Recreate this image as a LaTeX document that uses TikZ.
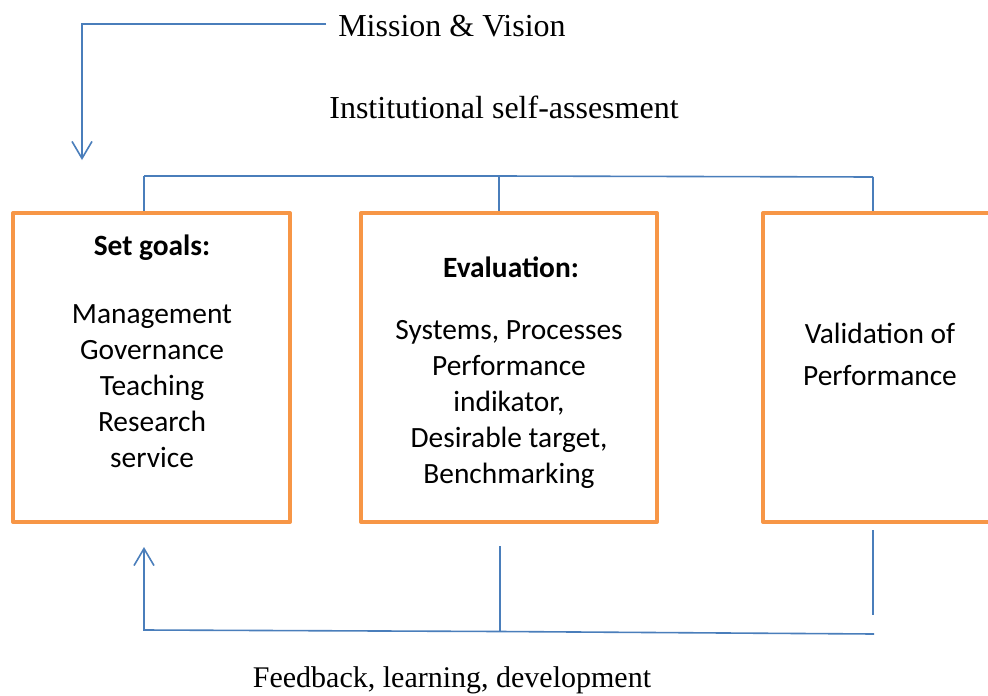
\documentclass[tikz,border=0pt]{standalone}
\usepackage{fontspec}
\usetikzlibrary{arrows.meta}
\newfontfamily\boxfont{Carlito}
\newfontfamily\capfont{Liberation Serif}
\definecolor{frameorange}{HTML}{F79646}
\definecolor{linkblue}{HTML}{4A7EBB}
\tikzset{
  goalbox/.style={draw=frameorange, line width=4pt, line join=round, minimum width=277pt, minimum height=309pt, inner sep=0pt},
  boxtext/.style={font=\boxfont\fontsize{29.4}{36}\selectfont, align=center, inner sep=0pt},
  boxtitle/.style={font=\boxfont\bfseries\fontsize{29.4}{36}\selectfont, inner sep=0pt},
  captext/.style={font=\capfont\fontsize{32}{38}\selectfont, inner sep=0pt},
  link/.style={draw=linkblue, line width=1.6pt},
  linkarrow/.style={link, -{Straight Barb[length=17pt,width=20pt,line width=1.6pt]}}
}
\begin{document}
\begin{tikzpicture}[x=1pt,y=-1pt]
\useasboundingbox (0,0) rectangle (988,696);
\clip (0,0) rectangle (988,696);
\fill[white] (0,0) rectangle (988,696);

% captions outside the boxes
\node[captext] (mission) at (452,26) {Mission \& Vision};
\node[captext] (selfass) at (504,107) {Institutional self-assesment};
\node[captext, font=\capfont\fontsize{30}{36}\selectfont] (feedback) at (452,680) {Feedback, learning, development};

% the three boxes
\node[goalbox] (goals) at (151.5,367.5) {};
\node[goalbox, minimum width=296pt] (eval) at (509,367.5) {};
\node[goalbox, minimum width=240pt] (valid) at (883,367.5) {};

\node[boxtitle] (goalstitle) at (152,248) {Set goals:};
\node[boxtext] (goalsbody) at (152,386) {Management\\Governance\\Teaching\\Research\\service};
\node[boxtitle] (evaltitle) at (511,267) {Evaluation:};
\node[boxtext] (evalbody) at (509,404) {Systems, Processes\\Performance\\indikator,\\Desirable target,\\Benchmarking};
\node[boxtext, font=\boxfont\fontsize{29.4}{42}\selectfont] (validbody) at (880,354) {Validation of\\Performance};

% connector points
\coordinate (mvcorner) at (82,24);
\coordinate (mvtip) at (82,160);
\coordinate (topL) at (144,176);
\coordinate (topM) at (499,176);
\coordinate (topR) at (873,177);
\coordinate (fbtip) at (144,547);
\coordinate (fbcorner) at (144,630);
\coordinate (fbmid) at (500,631.5);
\coordinate (fbmidtop) at (500,546);
\coordinate (fbend) at (874,634);
\coordinate (validlow) at (873,530);
\coordinate (validend) at (873,615);

% mission arrow
\draw[linkarrow] (mission.west) ++(-12,-2) -- (mvcorner) -- (mvtip);

% self-assessment bracket
\draw[link] (topL) -- (topM) -- (topR);
\draw[link] (topL) -- (topL |- goals.north);
\draw[link] (topM) -- (topM |- eval.north);
\draw[link] (topR) -- (topR |- valid.north);

% feedback loop
\draw[linkarrow] (fbend) -- (fbmid) -- (fbcorner) -- (fbtip);
\draw[link] (fbmidtop) -- (fbmid);
\draw[link] (validlow) -- (validend);
\end{tikzpicture}
\end{document}
